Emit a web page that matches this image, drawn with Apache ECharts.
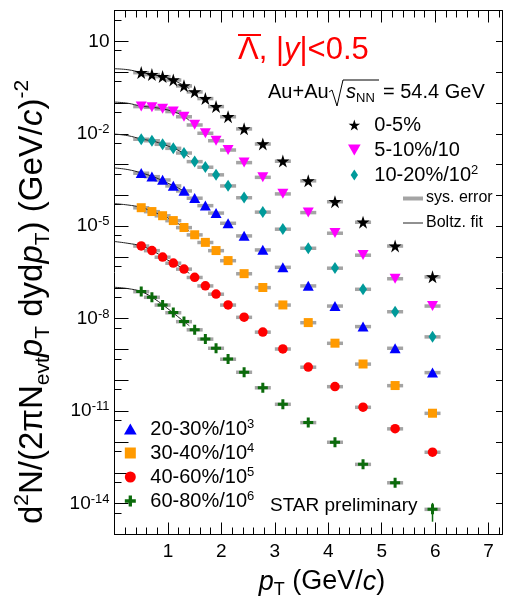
<!DOCTYPE html>
<html><head><meta charset="utf-8">
<script src="https://cdn.jsdelivr.net/npm/echarts@6/dist/echarts.min.js"></script>
<style>html,body{margin:0;padding:0;background:#fff}#c{width:506px;height:604px}</style>
</head><body><div id="c"></div>
<script>
// ---- data ----
const pT = [0.5, 0.7, 0.9, 1.1, 1.3, 1.5, 1.7, 1.9, 2.125, 2.425, 2.775, 3.15, 3.625, 4.125, 4.65, 5.25, 5.95];
const cent0_5   = [9.7e-1, 8.4e-1, 7.2e-1, 5.6e-1, 3.6e-1, 2.3e-1, 1.4e-1, 7.7e-2, 3.6e-2, 1.45e-2, 4.7e-3, 1.3e-3, 3.0e-4, 6.3e-5, 1.36e-5, 2.3e-6, 2.3e-7];
const cent5_10  = [7.7e-2, 7.3e-2, 6.5e-2, 5.3e-2, 3.6e-2, 1.95e-2, 1.05e-2, 6.0e-3, 3.0e-3, 1.17e-3, 3.9e-4, 1.13e-4, 2.8e-5, 6.0e-6, 1.16e-6, 2.0e-7, 2.6e-8];
const cent10_20 = [6.7e-3, 6.0e-3, 4.6e-3, 3.4e-3, 2.4e-3, 1.26e-3, 8.3e-4, 4.7e-4, 2.05e-4, 8.5e-5, 2.9e-5, 8.1e-6, 1.95e-6, 4.4e-7, 9.1e-8, 1.7e-8, 2.6e-9];
const cent20_30 = [5.3e-4, 4.1e-4, 3.2e-4, 2.05e-4, 1.41e-4, 8.2e-5, 4.7e-5, 2.7e-5, 1.26e-5, 4.9e-6, 1.72e-6, 4.7e-7, 1.17e-7, 2.6e-8, 5.6e-9, 1.11e-9, 1.8e-10];
const cent30_40 = [4.0e-5, 3.0e-5, 2.2e-5, 1.53e-5, 9.1e-6, 5.3e-6, 3.0e-6, 1.63e-6, 7.7e-7, 2.9e-7, 1.03e-7, 2.8e-8, 7.5e-9, 1.61e-9, 3.4e-10, 6.8e-11, 8.6e-12];
const cent40_60 = [2.3e-6, 1.63e-6, 1.0e-6, 6.4e-7, 4.1e-7, 2.2e-7, 1.17e-7, 6.3e-8, 2.8e-8, 1.12e-8, 3.7e-9, 1.05e-9, 2.7e-10, 6.3e-11, 1.35e-11, 2.7e-12, 4.7e-13];
const cent60_80 = [7.6e-8, 5.0e-8, 2.8e-8, 1.58e-8, 8.1e-9, 4.4e-9, 2.2e-9, 1.11e-9, 4.9e-10, 1.85e-10, 5.8e-11, 1.69e-11, 4.3e-12, 9.9e-13, 1.9e-13, 4.8e-14, 6.6e-15];
const stat60_80 = [0, 0, 0, 0, 0, 0, 0, 0, 0, 0, 0, 0, 0, 0, 0, 0, 4.0e-15];

// Boltzmann fit curves
const fitPt = [0, 0.25, 0.5, 0.75, 1.0, 1.25, 1.4];
const fit0_5   = [1.29, 1.20, 0.977, 0.81, 0.65, 0.41, 0.29];
const fit5_10  = [0.107, 0.098, 0.079, 0.071, 0.059, 0.041, 0.027];
const fit10_20 = [9.8e-3, 8.7e-3, 6.8e-3, 5.6e-3, 4.0e-3, 2.6e-3, 1.74e-3];
const fit20_30 = [7.8e-4, 6.9e-4, 5.4e-4, 3.9e-4, 2.5e-4, 1.55e-4, 1.07e-4];
const fit30_40 = [5.4e-5, 4.9e-5, 4.1e-5, 2.8e-5, 1.86e-5, 1.05e-5, 6.9e-6];
const fit40_60 = [3.2e-6, 2.8e-6, 2.3e-6, 1.48e-6, 7.9e-7, 4.6e-7, 2.95e-7];
const fit60_80 = [1.05e-7, 9.5e-8, 7.6e-8, 4.4e-8, 2.1e-8, 9.5e-9, 5.9e-9];

const seriesNames = ['0-5%', '5-10%/10', '10-20%/10^2', '20-30%/10^3', '30-40%/10^4', '40-60%/10^5', '60-80%/10^6'];

// ticks
const xMajorTicks = [0, 1, 2, 3, 4, 5, 6, 7];
const xLabelValues = [1, 2, 3, 4, 5, 6, 7];
const xMinorTicks = [0.2,0.4,0.6,0.8,1.2,1.4,1.6,1.8,2.2,2.4,2.6,2.8,3.2,3.4,3.6,3.8,4.2,4.4,4.6,4.8,5.2,5.4,5.6,5.8,6.2,6.4,6.6,6.8,7.2];
const yMajorTicks = [1e-15,1e-14,1e-13,1e-12,1e-11,1e-10,1e-9,1e-8,1e-7,1e-6,1e-5,1e-4,1e-3,1e-2,1e-1,1,1e1,1e2];
const yMinorTicks = [5e-15,5e-14,5e-13,5e-12,5e-11,5e-10,5e-9,5e-8,5e-7,5e-6,5e-5,5e-4,5e-3,5e-2,5e-1,5,5e1];
const yLabelValues = [1e1, 1e-2, 1e-5, 1e-8, 1e-11, 1e-14];

// ---- styling ----
const FONT = 'Liberation Sans, Arial, Helvetica, sans-serif';
const STAR = 'path://M50,0L61.2,34.5L97.6,34.5L68.2,55.9L79.4,90.5L50,69.1L20.6,90.5L31.8,55.9L2.4,34.5L38.8,34.5Z';
const TRI_DOWN = 'path://M0,0L100,0L50,87Z';
const TRI_UP = 'path://M50,0L100,87L0,87Z';
const DIAMOND = 'path://M50,0L100,75L50,150L0,75Z';
const SQUARE = 'path://M0,0H100V100H0Z';
const PLUS = 'path://M35,0H65V35H100V65H65V100H35V65H0V35H35Z';

const groups = [
  {data: cent0_5,   fit: fit0_5,   color: '#000000', symbol: STAR,     size: 13},
  {data: cent5_10,  fit: fit5_10,  color: '#ff00ff', symbol: TRI_DOWN, size: [11, 10]},
  {data: cent10_20, fit: fit10_20, color: '#009a9a', symbol: DIAMOND,  size: [8, 12]},
  {data: cent20_30, fit: fit20_30, color: '#0000ff', symbol: TRI_UP,   size: [11, 10]},
  {data: cent30_40, fit: fit30_40, color: '#ff9a00', symbol: SQUARE,   size: 9},
  {data: cent40_60, fit: fit40_60, color: '#ff0000', symbol: 'circle', size: 9.5},
  {data: cent60_80, fit: fit60_80, color: '#0b6b0b', symbol: PLUS,     size: 10}
];
const sysHalfWidth = 0.15;  // GeV
const sysRel = 0.13;

const series = [];
groups.forEach(function (g, gi) {
  const pts = pT.map(function (x, i) { return [x, g.data[i]]; });
  series.push({
    type: 'custom', name: 'sys' + gi, z: 1, silent: true,
    renderItem: function (params, api) {
      const x = api.value(0), y = api.value(1);
      const a = api.coord([x - sysHalfWidth, y * (1 + sysRel)]);
      const b = api.coord([x + sysHalfWidth, y * (1 - sysRel)]);
      return {type: 'rect', shape: {x: a[0], y: a[1], width: b[0] - a[0], height: b[1] - a[1]},
              style: {fill: '#a4a4a4'}};
    },
    data: pts
  });
  series.push({
    type: 'line', name: 'fit' + gi, z: 2, silent: true, smooth: 0.4, showSymbol: false, symbol: 'none',
    lineStyle: {color: '#222', width: 1},
    data: fitPt.map(function (x, i) { return [x, g.fit[i]]; })
  });
  series.push({
    type: 'scatter', name: seriesNames[gi], z: 4, symbol: g.symbol, symbolSize: g.size,
    itemStyle: {color: g.color, opacity: 1},
    data: pts
  });
});
// statistical error bars (only visible one)
series.push({
  type: 'custom', name: 'stat', z: 3, silent: true,
  renderItem: function (params, api) {
    const x = api.value(0), y = api.value(1), e = api.value(2);
    if (!(e > 0)) return null;
    const a = api.coord([x, y + e]);
    const b = api.coord([x, y - e]);
    return {type: 'line', shape: {x1: a[0], y1: a[1], x2: b[0], y2: b[1]},
            style: {stroke: '#0b6b0b', lineWidth: 1.5}};
  },
  data: pT.map(function (x, i) { return [x, cent60_80[i], stat60_80[i]]; })
});

function legendFmt(n) { return n.replace(/\^(\d+)/, '{s|$1}'); }
const legendText = {fontSize: 20, fontFamily: FONT, color: '#000', lineHeight: 22,
  rich: {s: {fontSize: 13, fontFamily: FONT, color: '#000', verticalAlign: 'top', lineHeight: 13}}};

const xBase = {type: 'value', min: 0, max: 7.25, splitLine: {show: false}};
const yBase = {type: 'log', logBase: 10, min: 1e-15, max: 1e2, splitLine: {show: false}};
const lineBlack = {color: '#000', width: 1};

const option = {
  animation: false,
  backgroundColor: '#ffffff',
  grid: {left: 114.5, right: 4, top: 10.5, bottom: 69.5, containLabel: false, outerBoundsMode: 'none'},
  xAxis: [
    Object.assign({}, xBase, {position: 'bottom',
      axisLine: {show: true, onZero: false, lineStyle: lineBlack},
      axisTick: {show: true, inside: true, length: 12, customValues: xMajorTicks, lineStyle: lineBlack},
      axisLabel: {show: true, customValues: xLabelValues, fontSize: 19, fontFamily: FONT, color: '#000', margin: 8}}),
    Object.assign({}, xBase, {position: 'bottom',
      axisLine: {show: false, onZero: false},
      axisTick: {show: true, inside: true, length: 7, customValues: xMinorTicks, lineStyle: lineBlack},
      axisLabel: {show: false}}),
    Object.assign({}, xBase, {position: 'top',
      axisLine: {show: true, onZero: false, lineStyle: lineBlack},
      axisTick: {show: true, inside: true, length: 12, customValues: xMajorTicks, lineStyle: lineBlack},
      axisLabel: {show: false}}),
    Object.assign({}, xBase, {position: 'top',
      axisLine: {show: false, onZero: false},
      axisTick: {show: true, inside: true, length: 7, customValues: xMinorTicks, lineStyle: lineBlack},
      axisLabel: {show: false}})
  ],
  yAxis: [
    Object.assign({}, yBase, {position: 'left',
      axisLine: {show: true, onZero: false, lineStyle: lineBlack},
      axisTick: {show: true, inside: true, length: 14, customValues: yMajorTicks, lineStyle: lineBlack},
      axisLabel: {show: true, customValues: yLabelValues, margin: 5, fontSize: 19, fontFamily: FONT, color: '#000', lineHeight: 22,
        formatter: function (v) {
          const e = Math.round(Math.log10(v));
          return e === 1 ? '10' : '10{s|' + e + '}';
        },
        rich: {s: {fontSize: 13, fontFamily: FONT, color: '#000', verticalAlign: 'top', lineHeight: 13}}}}),
    Object.assign({}, yBase, {position: 'left',
      axisLine: {show: false, onZero: false},
      axisTick: {show: true, inside: true, length: 7, customValues: yMinorTicks, lineStyle: lineBlack},
      axisLabel: {show: false}}),
    Object.assign({}, yBase, {position: 'right',
      axisLine: {show: true, onZero: false, lineStyle: lineBlack},
      axisTick: {show: true, inside: true, length: 6, customValues: yMajorTicks, lineStyle: lineBlack},
      axisLabel: {show: false}})
  ],
  legend: [
    {orient: 'vertical', left: 348, top: 114, itemWidth: 30, itemHeight: 11, itemGap: 3,
     selectedMode: false, padding: 0, data: seriesNames.slice(0, 3), formatter: legendFmt, textStyle: legendText},
    {orient: 'vertical', left: 124, top: 418, itemWidth: 30, itemHeight: 11, itemGap: 2,
     selectedMode: false, padding: 0, data: seriesNames.slice(3), formatter: legendFmt, textStyle: legendText}
  ],
  graphic: [
    // Title
    {type: 'text', x: 238, y: 50, style: {text: 'Λ, |{i|y}|<0.5', fontSize: 31, fontFamily: FONT, fill: '#ff0000',
      align: 'left', verticalAlign: 'middle',
      rich: {i: {fontSize: 31, fontFamily: FONT, fontStyle: 'italic', fill: '#ff0000'}}}},
    {type: 'line', shape: {x1: 238, y1: 35, x2: 261, y2: 35}, style: {stroke: '#ff0000', lineWidth: 2}},
    // Au+Au sqrt(sNN)
    {type: 'text', x: 268, y: 92, style: {text: 'Au+Au', fontSize: 20, fontFamily: FONT, fill: '#000', align: 'left', verticalAlign: 'middle'}},
    {type: 'polyline', shape: {points: [[329, 92], [332, 90], [337, 106], [343, 80], [379, 80]]}, style: {stroke: '#000', lineWidth: 1, fill: null}},
    {type: 'text', x: 346, y: 92, style: {text: '{i|s}{b|NN}', fontSize: 20, fontFamily: FONT, fill: '#000', align: 'left', verticalAlign: 'middle',
      rich: {i: {fontSize: 20, fontFamily: FONT, fontStyle: 'italic', fill: '#000', lineHeight: 26},
             b: {fontSize: 13, fontFamily: FONT, fill: '#000', verticalAlign: 'bottom', lineHeight: 13}}}},
    {type: 'text', x: 383, y: 92, style: {text: '= 54.4 GeV', fontSize: 20, fontFamily: FONT, fill: '#000', align: 'left', verticalAlign: 'middle'}},
    // sys error / fit legend
    {type: 'rect', shape: {x: 403, y: 196.5, width: 20, height: 4}, style: {fill: '#a4a4a4'}},
    {type: 'text', x: 426, y: 198, style: {text: 'sys. error', fontSize: 16, fontFamily: FONT, fill: '#000', align: 'left', verticalAlign: 'middle'}},
    {type: 'line', shape: {x1: 403, y1: 223, x2: 423, y2: 223}, style: {stroke: '#222', lineWidth: 1}},
    {type: 'text', x: 426, y: 223, style: {text: 'Boltz. fit', fontSize: 16, fontFamily: FONT, fill: '#000', align: 'left', verticalAlign: 'middle'}},
    // STAR preliminary
    {type: 'text', x: 270, y: 506, style: {text: 'STAR preliminary', fontSize: 19, fontFamily: FONT, fill: '#000', align: 'left', verticalAlign: 'middle'}},
    // x title
    {type: 'text', x: 322, y: 582, style: {text: '{i|p}{b|T}{n| (GeV/}{i|c}{n|)}', fontSize: 27, fontFamily: FONT, fill: '#000', align: 'center', verticalAlign: 'middle',
      rich: {n: {fontSize: 27, fontFamily: FONT, fill: '#000', lineHeight: 34},
             i: {fontSize: 27, fontFamily: FONT, fontStyle: 'italic', fill: '#000', lineHeight: 34},
             b: {fontSize: 18, fontFamily: FONT, fill: '#000', verticalAlign: 'bottom', lineHeight: 18}}}},
    // y title
    {type: 'text', x: 33, y: 302, rotation: Math.PI / 2, style: {
      text: '{n|d}{u|2}{n|N/(2πN}{b|evt}{i|p}{b|T}{n| dyd}{i|p}{b|T}{n|) (GeV/}{i|c}{n|)}{u|-2}',
      fontSize: 33, fontFamily: FONT, fill: '#000', align: 'center', verticalAlign: 'middle',
      rich: {n: {fontSize: 33, fontFamily: FONT, fill: '#000', lineHeight: 42},
             i: {fontSize: 33, fontFamily: FONT, fontStyle: 'italic', fill: '#000', lineHeight: 42},
             u: {fontSize: 21, fontFamily: FONT, fill: '#000', verticalAlign: 'top', lineHeight: 21},
             b: {fontSize: 21, fontFamily: FONT, fill: '#000', verticalAlign: 'bottom', lineHeight: 21}}}}
  ],
  series: series
};

const chart = echarts.init(document.getElementById('c'), null, {renderer: 'canvas'});
chart.setOption(option);
</script></body></html>
